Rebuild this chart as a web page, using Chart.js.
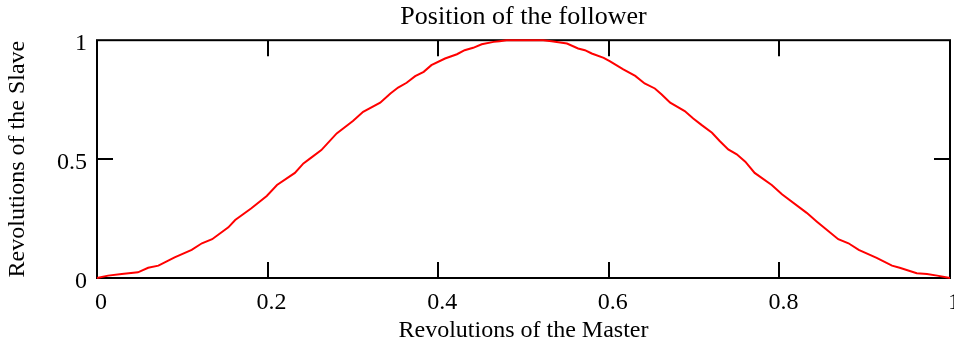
<!DOCTYPE html>
<html>
<head>
<meta charset="utf-8">
<script src="https://cdn.jsdelivr.net/npm/chart.js@4/dist/chart.umd.min.js"></script>
<style>
  html, body { margin: 0; padding: 0; background: #fff; }
  #wrap { width: 954px; height: 345px; }
</style>
</head>
<body>
<div id="wrap"><canvas id="followerChart" width="954" height="345"></canvas></div>
<script>
// --- DATA ---
const masterRev = [0, 0.013, 0.029, 0.048, 0.060, 0.072, 0.091, 0.111, 0.123, 0.135, 0.154, 0.162, 0.181, 0.199, 0.211,
  0.232, 0.242, 0.250, 0.263, 0.281, 0.300, 0.312, 0.332, 0.344, 0.353, 0.363, 0.373, 0.383, 0.392, 0.408, 0.422,
  0.431, 0.441, 0.451, 0.465, 0.472, 0.480, 0.500, 0.523, 0.533, 0.551, 0.564, 0.572, 0.580, 0.594, 0.601, 0.617,
  0.631, 0.642, 0.654, 0.662, 0.672, 0.689, 0.699, 0.709, 0.721, 0.730, 0.740, 0.750, 0.760, 0.771, 0.791, 0.803,
  0.832, 0.844, 0.869, 0.881, 0.893, 0.914, 0.932, 0.941, 0.961, 0.973, 0.985, 1.0];
const slaveRev = [0, 0.010, 0.017, 0.024, 0.043, 0.052, 0.087, 0.118, 0.146, 0.163, 0.213, 0.244, 0.293, 0.345, 0.391,
  0.442, 0.482, 0.503, 0.538, 0.608, 0.660, 0.699, 0.737, 0.776, 0.801, 0.821, 0.849, 0.867, 0.895, 0.923, 0.941,
  0.958, 0.968, 0.983, 0.993, 0.996, 1.0, 1.0, 1.0, 0.996, 0.986, 0.965, 0.958, 0.944, 0.926, 0.912, 0.877,
  0.850, 0.818, 0.797, 0.772, 0.737, 0.702, 0.671, 0.643, 0.611, 0.576, 0.541, 0.520, 0.489, 0.442, 0.391, 0.352,
  0.274, 0.237, 0.163, 0.146, 0.118, 0.085, 0.052, 0.043, 0.020, 0.017, 0.010, 0];
const xTickLabels = ['0', '0.2', '0.4', '0.6', '0.8', '1'];
const yTickLabels = ['0', '0.5', '1'];
const xMarks = [0.2, 0.4, 0.6, 0.8];
const yMarks = [0.5];

const serif = "'Liberation Serif', 'Times New Roman', serif";

// frame + inward tick marks on all four sides
const framePlugin = {
  id: 'frame',
  beforeDatasetsDraw(chart) {
    const { ctx, chartArea: a, scales } = chart;
    const len = 16;
    ctx.save();
    ctx.strokeStyle = '#000';
    ctx.lineWidth = 2;
    ctx.strokeRect(a.left, a.top, a.right - a.left, a.bottom - a.top);
    ctx.beginPath();
    xMarks.forEach((v) => {
      const px = Math.round(scales.x.getPixelForValue(v));
      ctx.moveTo(px, a.bottom); ctx.lineTo(px, a.bottom - len);
      ctx.moveTo(px, a.top); ctx.lineTo(px, a.top + len);
    });
    yMarks.forEach((v) => {
      const py = Math.round(scales.y.getPixelForValue(v));
      ctx.moveTo(a.left, py); ctx.lineTo(a.left + len, py);
      ctx.moveTo(a.right, py); ctx.lineTo(a.right - len, py);
    });
    ctx.stroke();
    ctx.restore();
  },
};

new Chart(document.getElementById('followerChart'), {
  type: 'line',
  data: {
    datasets: [{
      data: masterRev.map((x, i) => ({ x, y: slaveRev[i] })),
      borderColor: '#ff0000',
      borderWidth: 2,
      pointRadius: 0,
      tension: 0,
      fill: false,
      clip: 4,
    }],
  },
  plugins: [framePlugin],
  options: {
    responsive: false,
    animation: false,
    layout: { padding: { left: 0, right: 4, top: 0, bottom: 0 } },
    plugins: {
      legend: { display: false },
      tooltip: { enabled: false },
      title: {
        display: true,
        fullSize: false,
        text: 'Position of the follower',
        color: '#000',
        font: { family: serif, size: 26, weight: 'normal' },
        padding: { top: 2, bottom: 7 },
      },
    },
    scales: {
      x: {
        type: 'linear',
        min: 0,
        max: 1,
        grid: { display: false },
        border: { display: false },
        ticks: {
          stepSize: 0.2,
          padding: 2,
          labelOffset: 4,
          color: '#000',
          maxRotation: 0,
          font: { family: serif, size: 24 },
          callback: (v, i) => xTickLabels[i],
        },
        title: {
          display: true,
          text: 'Revolutions of the Master',
          color: '#000',
          font: { family: serif, size: 24 },
          padding: { top: 0, bottom: 0 },
        },
        afterFit: (s) => { s.height = 67; s.paddingLeft = 0; s.paddingRight = 0; },
      },
      y: {
        min: 0,
        max: 1,
        grid: { display: false },
        border: { display: false },
        ticks: {
          stepSize: 0.5,
          padding: 2,
          labelOffset: 4,
          color: '#000',
          font: { family: serif, size: 24 },
          callback: (v, i) => yTickLabels[i],
        },
        title: {
          display: true,
          text: 'Revolutions of the Slave',
          color: '#000',
          font: { family: serif, size: 24 },
          padding: { top: 3, bottom: 0 },
        },
        afterFit: (s) => { s.width = 97; s.paddingTop = 0; s.paddingBottom = 0; },
      },
    },
  },
});
</script>
</body>
</html>
